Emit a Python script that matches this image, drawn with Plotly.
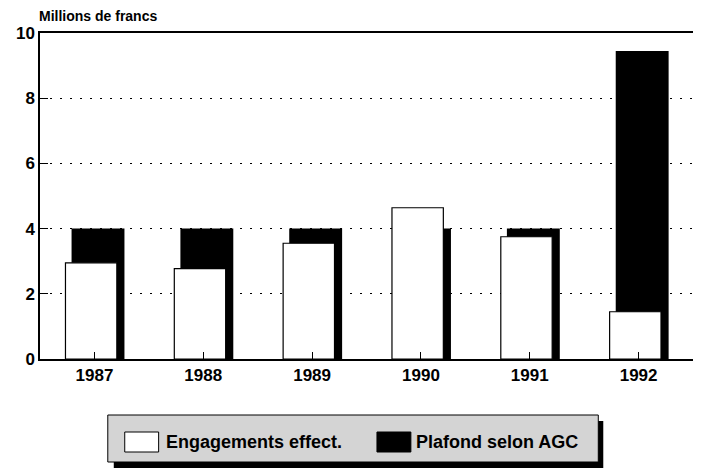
import plotly.graph_objects as go

years = ['1987', '1988', '1989', '1990', '1991', '1992']
engagements = [2.95, 2.77, 3.55, 4.64, 3.75, 1.45]
plafond = [4.0, 4.0, 4.0, 4.0, 4.0, 9.45]
legend_labels = ['Engagements effect.', 'Plafond selon AGC']
y_title = 'Millions de francs'

FONT = 'Liberation Sans, Arial, sans-serif'

# page body has an 8px margin, so shrink the figure and move plot area back
OFF = 8
W, H = 701 - OFF, 472 - OFF
L, R, T, B = 40, 6, 33, 113   # plot area in window pixels
pw, ph = 701 - L - R, 472 - T - B


def px(x):
    return (x - L) / pw


def py(y):
    return (472 - B - y) / ph


fig = go.Figure()

# black bars behind, white bars in front, shifted a bit
fig.add_trace(go.Bar(x=years, y=plafond, name=legend_labels[1],
                     marker=dict(color='black', line=dict(width=0)),
                     offset=-0.21, width=0.486, showlegend=False))
fig.add_trace(go.Bar(x=years, y=engagements, name=legend_labels[0],
                     marker=dict(color='white', line=dict(color='black', width=1.2)),
                     offset=-0.266, width=0.472, showlegend=False))

fig.update_layout(
    width=W, height=H,
    margin=dict(l=L - OFF, r=R, t=T - OFF, b=B),
    barmode='overlay',
    plot_bgcolor='white', paper_bgcolor='white',
    font=dict(family=FONT, color='black', size=17, weight='bold'),
)
fig.update_xaxes(showline=True, linecolor='black', linewidth=1.5, mirror=True,
                 ticks='inside', ticklen=7, tickcolor='black',
                 tickfont=dict(size=17, weight='bold'), range=[-0.5, 5.5])
fig.update_yaxes(showline=True, linecolor='black', linewidth=1.5, mirror=True,
                 range=[0, 10], dtick=2, ticks='inside', ticklen=8, tickcolor='black',
                 showgrid=True, gridcolor='black', gridwidth=1, griddash='2px,8px',
                 tickfont=dict(size=17, weight='bold'), zeroline=False)

fig.add_annotation(text=y_title, xref='paper', yref='paper', x=px(37), y=py(16),
                   xanchor='left', yanchor='middle', showarrow=False,
                   font=dict(size=14, weight='bold'))

# legend box with shadow
shapes = [
    dict(type='rect', xref='paper', yref='paper', x0=px(114), x1=px(605), y0=py(421), y1=py(468),
         fillcolor='black', line=dict(width=0)),
    dict(type='rect', xref='paper', yref='paper', x0=px(108), x1=px(600), y0=py(415), y1=py(462),
         fillcolor='#d4d4d4', line=dict(color='black', width=1)),
    dict(type='rect', xref='paper', yref='paper', x0=px(125), x1=px(159), y0=py(432), y1=py(452),
         fillcolor='white', line=dict(color='black', width=1)),
    dict(type='rect', xref='paper', yref='paper', x0=px(378), x1=px(412), y0=py(432), y1=py(452),
         fillcolor='black', line=dict(color='black', width=1)),
]
for s in shapes:
    fig.add_shape(**s)

fig.add_annotation(text=legend_labels[0], xref='paper', yref='paper', x=px(164), y=py(442),
                   xanchor='left', yanchor='middle', showarrow=False, font=dict(size=18, weight='bold'))
fig.add_annotation(text=legend_labels[1], xref='paper', yref='paper', x=px(415), y=py(442),
                   xanchor='left', yanchor='middle', showarrow=False, font=dict(size=18, weight='bold'))

fig.write_html('out.html')
